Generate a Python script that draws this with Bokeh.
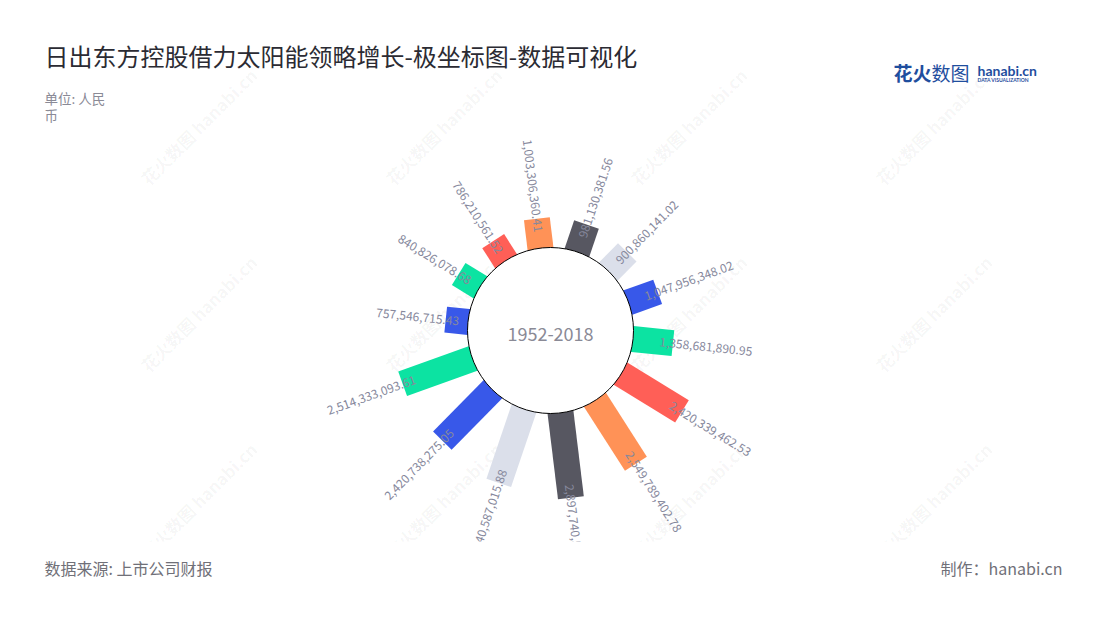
import math
from bokeh.plotting import figure
from bokeh.models import Range1d, Label, ColumnDataSource
from bokeh.embed import file_html
from bokeh.resources import INLINE
from bokeh.core.properties import value

# ---------------- data ----------------
title = "日出东方控股借力太阳能领略增长-极坐标图-数据可视化"
unit_lines = ["单位: 人民", "币"]
center_label = "1952-2018"
source_note = "数据来源: 上市公司财报"
credit = "制作：hanabi.cn"

values = [757546715.43, 840826078.68, 786210561.52, 1003306360.41,
          981130381.56, 900860141.02, 1047956348.02, 1358681890.95,
          2420339462.53, 2549789402.78, 2897740580.58, 2640587015.88,
          2420738275.05, 2514333093.61]
palette = ["#3858E9", "#0CE3A2", "#FF5F57", "#FF9257", "#575761", "#DBDFEA"]

# ---------------- layout constants ----------------
W, H = 1084, 604
PAGE_H = 620
def Y(py):
    return PAGE_H - py

CX, CY = 550, Y(330)
R0 = 83
PX_PER_UNIT = 29.5e-9
START_DEG = 275.9
STEP_DEG = 360.0 / len(values)
HALF_W = 13
FONT = "Noto Sans CJK SC"
CLIP_Y = 541

p = figure(width=W, height=H, output_backend="svg", toolbar_location=None,
           x_range=Range1d(0, W), y_range=Range1d(PAGE_H - H, PAGE_H),
           x_axis_location=None, y_axis_location=None,
           min_border_left=0, min_border_right=0, min_border_top=0,
           min_border_bottom=0, tools="")
p.grid.visible = False
p.outline_line_color = None
p.background_fill_color = "white"
p.border_fill_color = "white"

# ---------------- watermarks ----------------
wm_x, wm_y = [], []
for cx in [198, 443, 688, 933]:
    for cy in [126, 313, 500]:
        wm_x.append(cx)
        wm_y.append(Y(cy))
p.text(x=wm_x, y=wm_y, text=["花火数图 hanabi.cn"] * len(wm_x), angle=math.pi / 4,
       text_align="center", text_baseline="middle", text_font=value(FONT),
       text_font_size="17px", text_font_style="bold", text_color="#000000",
       text_alpha=0.045)

# ---------------- bars ----------------
xs, ys, colors = [], [], []
lx, ly, ltext, lang, lalign = [], [], [], [], []
for i, v in enumerate(values):
    th = math.radians(START_DEG + STEP_DEG * i)
    ux, uy = math.sin(th), math.cos(th)
    vx, vy = math.cos(th), -math.sin(th)
    r1 = R0 + v * PX_PER_UNIT
    ri = R0 - 8
    xs.append([CX + ri * ux + HALF_W * vx, CX + r1 * ux + HALF_W * vx,
               CX + r1 * ux - HALF_W * vx, CX + ri * ux - HALF_W * vx])
    ys.append([CY + ri * uy + HALF_W * vy, CY + r1 * uy + HALF_W * vy,
               CY + r1 * uy - HALF_W * vy, CY + ri * uy - HALF_W * vy])
    colors.append(palette[i % len(palette)])
    rl = r1 - 13.5
    lx.append(CX + rl * ux)
    ly.append(CY + rl * uy)
    ltext.append(f"{v:,.2f}")
    phi = math.pi / 2 - th
    if math.sin(th) > 0:
        lang.append(phi)
        lalign.append("left")
    else:
        lang.append(phi + math.pi)
        lalign.append("right")

p.patches(xs=xs, ys=ys, fill_color=colors, line_color=None)

# inner circle
p.circle(x=[CX], y=[CY], radius=R0, fill_color="white", line_color="#000000",
         line_width=1)

lsrc = ColumnDataSource(dict(x=lx, y=ly, text=ltext, angle=lang, align=lalign))
p.text(x="x", y="y", text="text", angle="angle", text_align="align", source=lsrc,
       text_baseline="middle", text_font=value(FONT), text_font_size="12px",
       text_color="#86889c")

p.text(x=[CX], y=[Y(333)], text=[center_label], text_align="center",
       text_baseline="middle", text_font=value(FONT), text_font_size="18px",
       text_color="#8a8a96")

# clip region below the chart area (mimics the grid clip)
p.quad(left=[0], right=[W], bottom=[PAGE_H - H], top=[Y(CLIP_Y)],
       fill_color="white", line_color=None)

# ---------------- titles / notes ----------------
p.text(x=[44], y=[Y(567)], text=[source_note], text_baseline="middle",
       text_font=value(FONT), text_font_size="16px", text_color="#707078")
p.text(x=[1062], y=[Y(567)], text=[credit], text_baseline="middle",
       text_align="right", text_font=value(FONT), text_font_size="16px",
       text_color="#707078")

p.add_layout(Label(x=44, y=Y(55), text=title, text_baseline="middle",
                   text_font=FONT, text_font_size="24px", text_color="#2b2b33"))
p.add_layout(Label(x=44, y=Y(97), text=unit_lines[0], text_baseline="middle",
                   text_font=FONT, text_font_size="13.5px", text_color="#8a8a96"))
p.add_layout(Label(x=44, y=Y(114), text=unit_lines[1], text_baseline="middle",
                   text_font=FONT, text_font_size="13.5px", text_color="#8a8a96"))

# logo
p.add_layout(Label(x=893, y=Y(72), text="花火", text_baseline="middle",
                   text_font=FONT, text_font_size="19px", text_font_style="bold",
                   text_color="#1f4e9e"))
p.add_layout(Label(x=931, y=Y(72), text="数图", text_baseline="middle",
                   text_font=FONT, text_font_size="19px",
                   text_color="#1f4e9e"))
p.add_layout(Label(x=977, y=Y(70), text="hanabi.cn", text_baseline="middle",
                   text_font="Lato", text_font_size="14px", text_font_style="bold",
                   text_color="#1f4e9e"))
p.add_layout(Label(x=977, y=Y(79), text="DATA VISUALIZATION", text_baseline="middle",
                   text_font="Lato", text_font_size="5px", text_font_style="bold",
                   text_color="#1f4e9e"))

open("out.html", "w").write(file_html(p, INLINE))
